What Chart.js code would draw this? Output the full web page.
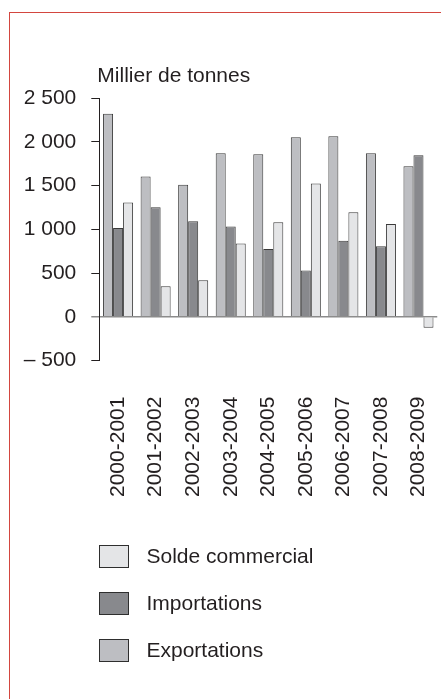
<!DOCTYPE html>
<html><head><meta charset="utf-8">
<script src="https://cdn.jsdelivr.net/npm/chart.js@4.4.1/dist/chart.umd.min.js"></script>
<style>
html,body{margin:0;padding:0;background:#fff;}
#wrap{position:relative;width:441px;height:699px;overflow:hidden;}
#frame{position:absolute;left:9px;top:12px;right:-2px;bottom:-2px;border-top:1px solid #d3463f;border-left:1px solid #d3463f;}
canvas{position:absolute;left:0;top:0;}
</style></head><body>
<div id="wrap"><div id="frame"></div><canvas id="c" width="441" height="699"></canvas></div>
<script>
const categories = ['2000-2001','2001-2002','2002-2003','2003-2004','2004-2005','2005-2006','2006-2007','2007-2008','2008-2009'];
const exportations = [2320, 1602, 1510, 1868, 1857, 2051, 2063, 1868, 1720];
const importations = [1015, 1252, 1092, 1031, 776, 529, 868, 807, 1845];
const soldeCommercial = [1305, 350, 418, 837, 1081, 1522, 1195, 1061, -125];
const seriesNames = ['Exportations', 'Importations', 'Solde commercial'];
const seriesColors = ['#bdbec2', '#88898d', '#e4e5e7'];
const yTickValues = [-500, 0, 500, 1000, 1500, 2000, 2500];
const yTickLabels = ['– 500', '0', '500', '1 000', '1 500', '2 000', '2 500'];
const unitLabel = 'Millier de tonnes';

const TEXT = '#231f20';
const FONT = '"Liberation Sans", Arial, Helvetica, sans-serif';
Chart.defaults.font.family = FONT;
Chart.defaults.font.size = 21;
Chart.defaults.color = TEXT;

const extras = {
  id: 'extras',
  afterDraw(chart) {
    const ctx = chart.ctx, ca = chart.chartArea;
    ctx.save();
    ctx.font = '21px ' + FONT;
    ctx.fillStyle = TEXT;
    ctx.textAlign = 'left';
    ctx.textBaseline = 'alphabetic';
    ctx.fillText(unitLabel, ca.left - 2, ca.top - 16);
    const order = [2, 1, 0];
    order.forEach((di, i) => {
      const ds = chart.data.datasets[di];
      const cy = Math.round(ca.bottom + 195.5 + i * 47);
      const bx = Math.round(ca.left) + 0.5;
      ctx.fillStyle = ds.backgroundColor;
      ctx.fillRect(bx, cy - 11 + 0.5, 29, 22);
      ctx.strokeStyle = '#2e2e2e';
      ctx.lineWidth = 1;
      ctx.strokeRect(bx, cy - 11 + 0.5, 29, 22);
      ctx.fillStyle = TEXT;
      ctx.textBaseline = 'middle';
      ctx.fillText(ds.label, bx + 47, cy + 1);
    });
    ctx.restore();
  }
};

const seriesData = [exportations, importations, soldeCommercial];
new Chart(document.getElementById('c'), {
  type: 'bar',
  data: {
    labels: categories,
    datasets: seriesNames.map((n, i) => ({
      label: n,
      data: seriesData[i],
      backgroundColor: seriesColors[i],
      borderColor: '#3a3a3a',
      borderWidth: 1,
      borderSkipped: 'start',
      categoryPercentage: 0.8,
      barPercentage: 1.0
    }))
  },
  options: {
    responsive: false,
    animation: false,
    devicePixelRatio: 1,
    layout: { padding: { left: 8.75, right: 3.75, top: 98, bottom: 202 } },
    plugins: { legend: { display: false }, tooltip: { enabled: false }, title: { display: false } },
    scales: {
      x: {
        grid: { display: true, drawOnChartArea: false, drawTicks: true, tickLength: 36, color: 'rgba(0,0,0,0)', tickColor: 'rgba(0,0,0,0)' },
        border: { display: false },
        ticks: { minRotation: 90, maxRotation: 90, autoSkip: false, padding: 0, color: TEXT, font: { size: 21, lineHeight: 1 } }
      },
      y: {
        min: -500, max: 2500,
        afterBuildTicks: s => { s.ticks = yTickValues.map(v => ({ value: v })); },
        grid: {
          drawOnChartArea: true,
          drawTicks: true,
          tickLength: 8,
          color: c => (c.tick && c.tick.value === 0) ? '#8c8c8c' : 'rgba(0,0,0,0)',
          lineWidth: c => (c.tick && c.tick.value === 0) ? 1.5 : 1,
          tickColor: c => (c.tick && c.tick.value === 0) ? '#8c8c8c' : TEXT,
          tickWidth: c => (c.tick && c.tick.value === 0) ? 1.5 : 1
        },
        border: { display: true, color: TEXT, width: 1 },
        ticks: {
          padding: 15,
          color: TEXT,
          font: { size: 21 },
          callback: v => { const k = yTickValues.indexOf(v); return k >= 0 ? yTickLabels[k] : ''; }
        }
      }
    }
  },
  plugins: [extras]
});
</script>
</body></html>
